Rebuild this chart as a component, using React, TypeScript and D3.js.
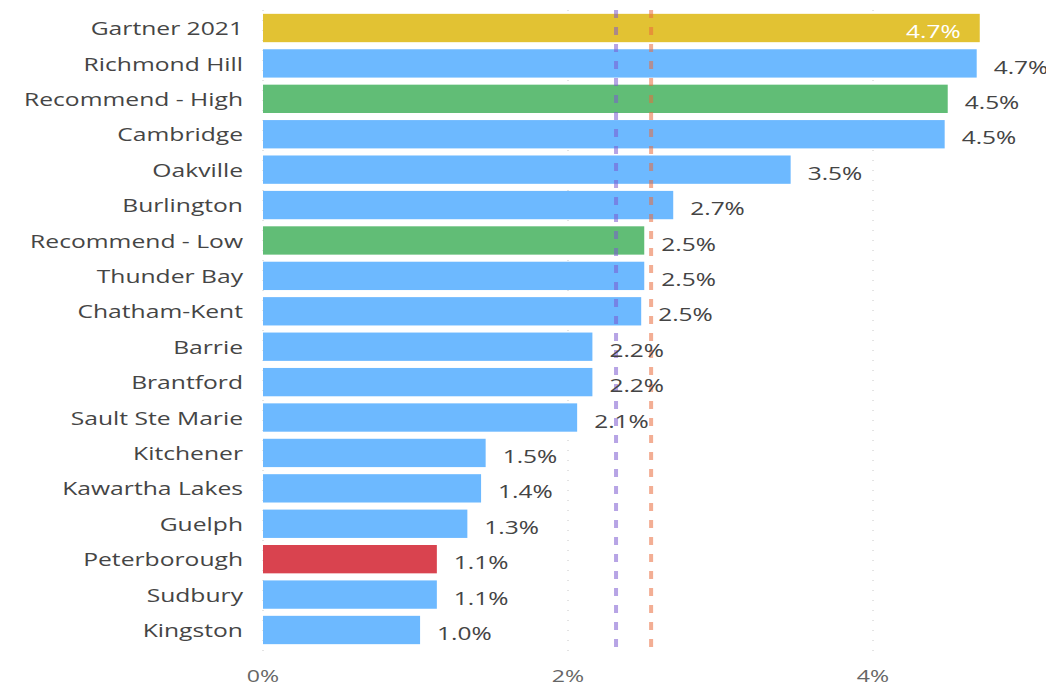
import React from "react";
import * as d3 from "d3";

const categories = [
  "Gartner 2021",
  "Richmond Hill",
  "Recommend - High",
  "Cambridge",
  "Oakville",
  "Burlington",
  "Recommend - Low",
  "Thunder Bay",
  "Chatham-Kent",
  "Barrie",
  "Brantford",
  "Sault Ste Marie",
  "Kitchener",
  "Kawartha Lakes",
  "Guelph",
  "Peterborough",
  "Sudbury",
  "Kingston",
];
const values = [4.7, 4.68, 4.49, 4.47, 3.46, 2.69, 2.5, 2.5, 2.48, 2.16, 2.16, 2.06, 1.46, 1.43, 1.34, 1.14, 1.14, 1.03];
const valueLabels = ["4.7%", "4.7%", "4.5%", "4.5%", "3.5%", "2.7%", "2.5%", "2.5%", "2.5%", "2.2%", "2.2%", "2.1%", "1.5%", "1.4%", "1.3%", "1.1%", "1.1%", "1.0%"];
const kinds = ["gartner", "city", "rec", "city", "city", "city", "rec", "city", "city", "city", "city", "city", "city", "city", "city", "self", "city", "city"];
const tickValues = [0, 2, 4];
const refLines = [
  { value: 2.315, color: "#7b5ad0" },
  { value: 2.545, color: "#ea6b3c" },
];

const colorOf: Record<string, string> = {
  gartner: "#e2c233",
  city: "#6db9ff",
  rec: "#61bd76",
  self: "#d9434f",
};

const W = 1046;
const H = 686;
const SX_LABEL = 1.37; // the source screenshot is stretched horizontally
const SX_VALUE = 1.36;
const FONT = "'Open Sans', 'DejaVu Sans', sans-serif";

export default function App() {
  const x = d3.scaleLinear().domain([0, 4]).range([263, 873]);
  const y = d3.scaleBand<string>().domain(categories).range([10.3, 647.7]).paddingInner(0.2).paddingOuter(0.1);
  const gridTop = 10;
  const gridBottom = 655;

  const stretched = (tx: number, ty: number, sx: number) => `translate(${tx},${ty}) scale(${sx},1)`;

  return (
    <svg width={W} height={H} style={{ position: "absolute", left: 0, top: 0, background: "#fff" }} fontFamily={FONT}>
      {/* dotted gridlines */}
      {tickValues.map((t) => (
        <line key={"g" + t} x1={x(t)} x2={x(t)} y1={gridTop} y2={gridBottom} stroke="#c8c8c8" strokeWidth={1} strokeDasharray="1,9" />
      ))}

      {/* bars */}
      {categories.map((c, i) => (
        <rect key={c} x={x(0)} y={y(c)} width={x(values[i]) - x(0)} height={y.bandwidth()} fill={colorOf[kinds[i]]} />
      ))}

      {/* reference lines */}
      {refLines.map((r) => (
        <line key={r.value} x1={x(r.value)} x2={x(r.value)} y1={gridTop} y2={gridBottom} stroke={r.color} strokeOpacity={0.55} strokeWidth={4} strokeDasharray="8,9" />
      ))}

      {/* category labels */}
      {categories.map((c) => (
        <text key={"l" + c} transform={stretched(243, (y(c) as number) + y.bandwidth() / 2, SX_LABEL)} textAnchor="end" dominantBaseline="central" fontSize={18} fill="#454545">
          {c}
        </text>
      ))}

      {/* value labels */}
      {categories.map((c, i) => {
        const inside = kinds[i] === "gartner";
        const tx = inside ? x(values[i]) - 19 : x(values[i]) + 17;
        return (
          <text key={"v" + c} transform={stretched(tx, (y(c) as number) + y.bandwidth() / 2 + 3, SX_VALUE)} textAnchor={inside ? "end" : "start"} dominantBaseline="central" fontSize={18} fill={inside ? "#ffffff" : "#444444"}>
            {valueLabels[i]}
          </text>
        );
      })}

      {/* x axis tick labels */}
      {tickValues.map((t) => (
        <text key={"t" + t} transform={stretched(x(t), 675, SX_VALUE)} textAnchor="middle" dominantBaseline="central" fontSize={17} fill="#666666">
          {t + "%"}
        </text>
      ))}
    </svg>
  );
}
